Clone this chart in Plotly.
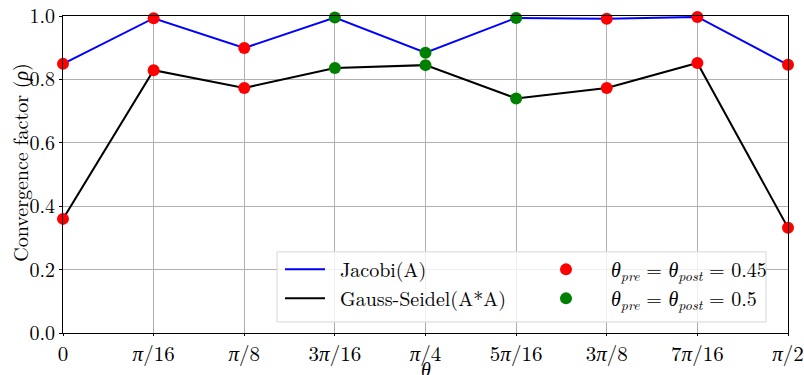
import plotly.graph_objects as go

tick_labels = ["0", "<i>π</i>/16", "<i>π</i>/8", "3<i>π</i>/16", "<i>π</i>/4", "5<i>π</i>/16",
               "3<i>π</i>/8", "7<i>π</i>/16", "<i>π</i>/2"]
theta_idx = [0, 1, 2, 3, 4, 5, 6, 7, 8]
jacobi = [0.849, 0.993, 0.899, 0.995, 0.884, 0.994, 0.991, 0.997, 0.846]
gauss_seidel = [0.360, 0.829, 0.773, 0.836, 0.845, 0.740, 0.773, 0.852, 0.332]
omega_choice = [0.45, 0.45, 0.45, 0.5, 0.5, 0.5, 0.45, 0.45, 0.45]
y_ticks = [0, 0.2, 0.4, 0.6, 0.8, 1.0]
y_ticklabels = ["0.0", "0.2", "0.4", "0.6", "0.8", "1.0"]

FONT = "Latin Modern Roman"
F20 = dict(family=FONT, size=20, color="black")
F21 = dict(family=FONT, size=21, color="black")
SP1 = "\u00a0"
SP2 = "\u00a0\u00a0"

fig = go.Figure()
fig.add_trace(go.Scatter(x=theta_idx, y=jacobi, mode="lines", line=dict(color="blue", width=2),
                         name=SP1 + "Jacobi(A)", legend="legend"))
fig.add_trace(go.Scatter(x=theta_idx, y=gauss_seidel, mode="lines", line=dict(color="black", width=2),
                         name=SP1 + "Gauss-Seidel(A*A)", legend="legend"))

for val, col, label in [(0.45, "red", SP2 + "<i>θ<sub>pre</sub></i> = <i>θ<sub>post</sub></i> = 0.45"),
                        (0.5, "green", SP2 + "<i>θ<sub>pre</sub></i> = <i>θ<sub>post</sub></i> = 0.5")]:
    xs = [x for x, o in zip(theta_idx, omega_choice) if o == val]
    fig.add_trace(go.Scatter(x=xs, y=[y for y, o in zip(jacobi, omega_choice) if o == val],
                             mode="markers", marker=dict(color=col, size=12),
                             name=label, legend="legend2", showlegend=True))
    fig.add_trace(go.Scatter(x=xs, y=[y for y, o in zip(gauss_seidel, omega_choice) if o == val],
                             mode="markers", marker=dict(color=col, size=12),
                             name=label, legend="legend2", showlegend=False))

fig.add_shape(type="rect", xref="paper", yref="paper",
              x0=(277 - 63) / 725, x1=(766 - 63) / 725,
              y0=(333 - 322) / 316.5, y1=(333 - 252) / 316.5,
              line=dict(color="#d6d6d6", width=1), fillcolor="rgba(255,255,255,0.8)", layer="above")

fig.add_annotation(text="<i>θ</i>", xref="paper", yref="paper", x=0.5, y=-(368 - 333) / 316.5,
                   xanchor="center", yanchor="middle", showarrow=False, font=F20)
fig.add_annotation(text="Convergence factor (<i>ρ</i>)", xref="paper", yref="paper",
                   x=(20 - 63) / 725, y=(333 - 163) / 316.5, xanchor="center", yanchor="middle",
                   textangle=-90, showarrow=False, font=F20)

fig.update_layout(
    width=804, height=375,
    margin=dict(l=63, r=16, t=16, b=42, autoexpand=False),
    plot_bgcolor="white", paper_bgcolor="white",
    font=F20,
    legend=dict(x=(280 - 63) / 725, y=(333 - 250) / 316.5, xanchor="left", yanchor="top",
                bgcolor="rgba(0,0,0,0)", font=F20, tracegroupgap=0, itemwidth=40),
    legend2=dict(x=(541 - 63) / 725, y=(333 - 250) / 316.5, xanchor="left", yanchor="top",
                 bgcolor="rgba(0,0,0,0)", font=F20, tracegroupgap=0, itemwidth=40),
    xaxis=dict(range=[0, 8], tickvals=theta_idx, ticktext=tick_labels, showgrid=True, automargin=False,
               gridcolor="#b0b0b0", gridwidth=1, showline=True, linecolor="black", linewidth=1,
               mirror=True, ticks="outside", ticklen=2, tickcolor="black", zeroline=False,
               tickfont=F21),
    yaxis=dict(range=[0, 1.0], tickvals=y_ticks, automargin=False,
               ticktext=y_ticklabels, showgrid=True,
               gridcolor="#b0b0b0", gridwidth=1, showline=True, linecolor="black", linewidth=1,
               mirror=True, ticks="outside", ticklen=3, tickcolor="black", zeroline=False,
               tickfont=F20),
)
fig.update_traces(cliponaxis=False)
fig.write_html("out.html")
